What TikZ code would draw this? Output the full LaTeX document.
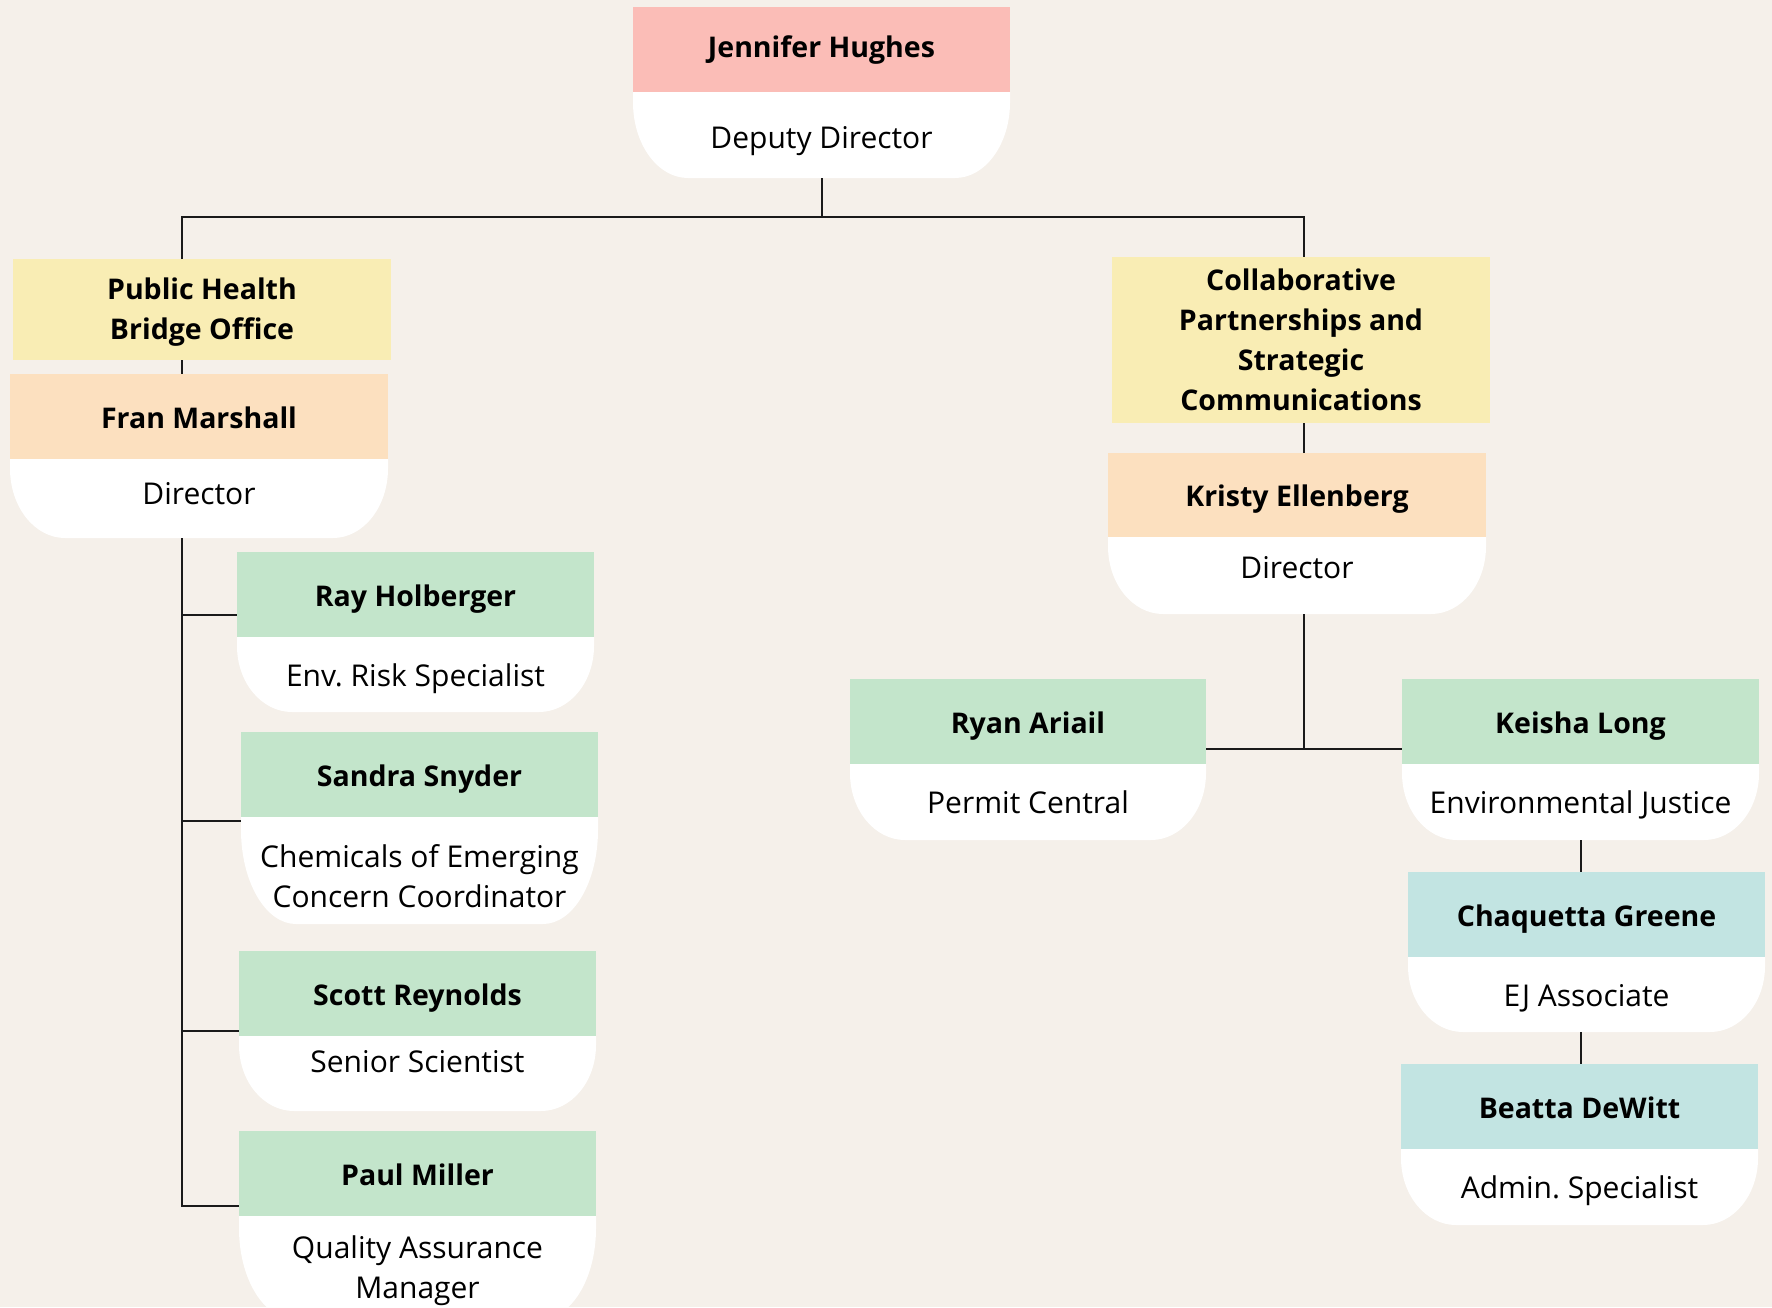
\documentclass[tikz,border=0pt]{standalone}
\usepackage{fontspec}
\setmainfont{Open Sans}
\usetikzlibrary{calc}

\definecolor{pagebg}{HTML}{F5F0EA}
\definecolor{headpink}{HTML}{FBBDB7}
\definecolor{officeyellow}{HTML}{F9EDB4}
\definecolor{headpeach}{HTML}{FCE0BF}
\definecolor{headgreen}{HTML}{C3E5CB}
\definecolor{headteal}{HTML}{C2E4E2}
\definecolor{inkline}{HTML}{1A1A1A}

\newcommand{\namefont}{\fontsize{28.5}{40}\selectfont\bfseries}
\newcommand{\rolefont}{\fontsize{30}{40}\selectfont}

\tikzset{every picture/.style={line width=2pt}}
\tikzset{
  cardtext/.style={inner sep=0pt, outer sep=0pt, minimum width=357pt, align=center, text=black},
  office/.style={cardtext, anchor=north west, fill=officeyellow, minimum width=378pt, font=\namefont},
  head/.style={cardtext, anchor=north west, minimum height=85pt, text height=23pt, text depth=0pt, font=\namefont},
  role/.style={cardtext, anchor=north, minimum height=76pt, font=\rolefont,
    path picture={\fill[white] let \p1=(path picture bounding box.north west), \p2=(path picture bounding box.south east), \n1={0.88*(\y1-\y2)} in
      (\x1,\y1) -- (\x2,\y1) -- (\x2,{\y2+\n1*1pt}) arc[start angle=0, end angle=-90, x radius=55pt, y radius=\n1*1pt]
      -- ({\x1+55pt},\y2) arc[start angle=270, end angle=180, x radius=55pt, y radius=\n1*1pt] -- cycle;}},
  oneline/.style={text height=23pt, text depth=0pt},
  link/.style={draw=inkline, line width=2pt},
}

\begin{document}
\frenchspacing
\begin{tikzpicture}[x=1pt,y=-1pt]
\useasboundingbox (0,0) rectangle (1772,1307);
\fill[pagebg] (0,0) rectangle (1772,1307);

% Deputy director
\node[head, text height=16pt, fill=headpink, minimum width=377pt] (jh) at (633,7) {Jennifer Hughes};
\node[role, oneline, text height=27pt, minimum width=377pt, minimum height=86pt] (jhr) at (jh.south) {Deputy Director};

% Offices
\node[office, minimum height=101pt] (phbo) at (13,259) {\rule{0pt}{27pt}Public Health\\ Bridge Office};
\node[office, minimum height=166pt] (cpsc) at (1112,257) {Collaborative\\ Partnerships and\\ Strategic\\ Communications};

% Directors
\node[head, fill=headpeach, minimum width=378pt] (fm) at (10,374) {Fran Marshall};
\node[role, oneline, text depth=10.6pt, minimum width=378pt, minimum height=79pt] (fmr) at (fm.south) {Director};
\node[head, fill=headpeach, minimum width=378pt, minimum height=84pt] (ke) at (1108,453) {Kristy Ellenberg};
\node[role, oneline, text depth=16.6pt, minimum width=378pt, minimum height=77pt] (ker) at (ke.south) {Director};

% Public Health staff
\node[head, fill=headgreen] (rh) at (237,552) {Ray Holberger};
\node[role, oneline, minimum height=75pt] (rhr) at (rh.south) {Env. Risk Specialist};
\node[head, fill=headgreen] (ss) at (241,732) {Sandra Snyder};
\node[role, minimum height=107pt] (ssr) at (ss.south) {\rule{0pt}{35pt}Chemicals of Emerging\\ Concern Coordinator};
\node[head, fill=headgreen] (sr) at (239,951) {Scott Reynolds};
\node[role, oneline, text depth=25.6pt, minimum height=75pt] (srr) at (sr.south) {Senior Scientist};
\node[head, fill=headgreen] (pm) at (239,1131) {Paul Miller};
\node[role, minimum height=103pt] (pmr) at (pm.south) {\rule{0pt}{30pt}Quality Assurance\\ Manager};

% Partnerships staff
\node[head, fill=headgreen, minimum width=356pt] (ra) at (850,679) {Ryan Ariail};
\node[role, oneline, minimum width=356pt] (rar) at (ra.south) {Permit Central};
\node[head, fill=headgreen] (kl) at (1402,679) {Keisha Long};
\node[role, oneline] (klr) at (kl.south) {Environmental Justice};
\node[head, fill=headteal] (cg) at (1408,872) {Chaquetta Greene};
\node[role, oneline, minimum height=75pt] (cgr) at (cg.south) {EJ Associate};
\node[head, fill=headteal] (bd) at (1401,1064) {Beatta DeWitt};
\node[role, oneline] (bdr) at (bd.south) {Admin. Specialist};

% Connectors
\coordinate (lbus) at (182,217);
\coordinate (rbus) at (1304,217);
\draw[link] (jhr.south) -- (jhr.south |- lbus);
\draw[link] (phbo.north -| lbus) -- (lbus) -- (rbus) -- (cpsc.north -| rbus);
\draw[link] (phbo.south -| lbus) -- (fm.north -| lbus);
\draw[link] (cpsc.south -| rbus) -- (ke.north -| rbus);

\draw[link] (fmr.south -| lbus) |- ([yshift=22pt]rh.south west);
\draw[link] (fmr.south -| lbus) |- ([yshift=-4pt]ss.south west);
\draw[link] (fmr.south -| lbus) |- ([yshift=5pt]sr.south west);
\draw[link] (fmr.south -| lbus) |- ([yshift=10pt]pm.south west);

\draw[link] (ker.south -| rbus) |- ([yshift=15pt]ra.south east);
\draw[link] (ker.south -| rbus) |- ([yshift=15pt]kl.south west);
\draw[link] (klr.south) -- (klr.south |- cg.north);
\draw[link] (cgr.south -| klr.south) -- (bd.north -| klr.south);

\end{tikzpicture}
\end{document}
